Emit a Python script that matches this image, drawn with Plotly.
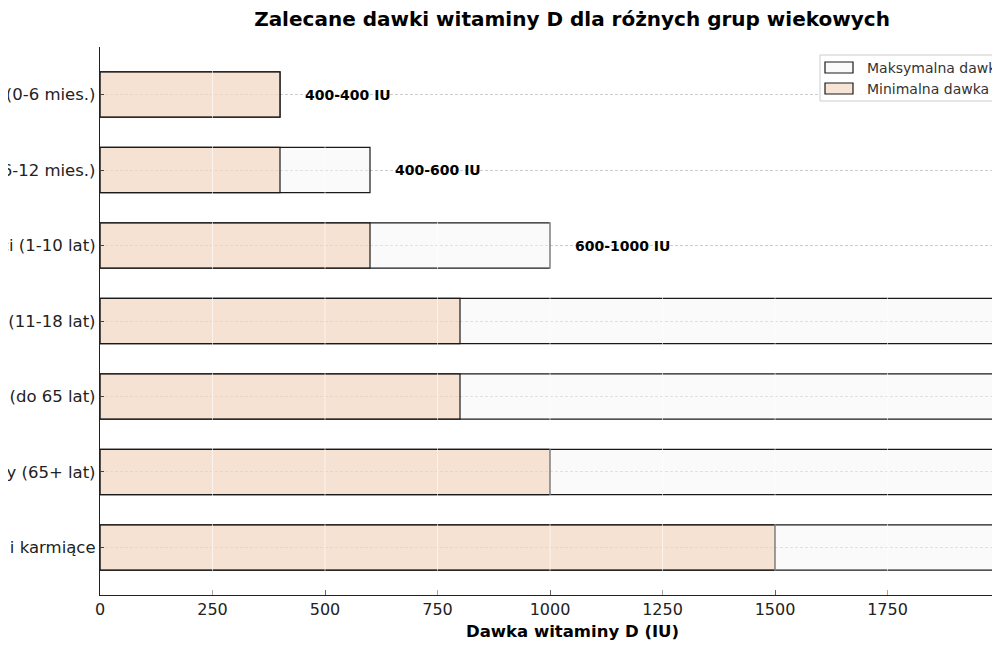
"""Zalecane dawki witaminy D – poziomy wykres słupkowy (min / max dawka)."""

import plotly.graph_objects as go

groups = [
    "Niemowlęta (0-6 mies.)",
    "Niemowlęta (6-12 mies.)",
    "Dzieci (1-10 lat)",
    "Młodzież (11-18 lat)",
    "Dorośli (do 65 lat)",
    "Seniorzy (65+ lat)",
    "Kobiety w ciąży i karmiące",
]
min_dose = [400, 400, 600, 800, 800, 1000, 1500]
max_dose = [400, 600, 1000, 2000, 2000, 2000, 2000]
x_ticks = [0, 250, 500, 750, 1000, 1250, 1500, 1750, 2000]

FONT = "DejaVu Sans"
# the page body has an 8px margin, so the figure is drawn 8px in from the window
OFF = 8
W, H = 1000 - 2 * OFF, 650 - 2 * OFF
# plot area in window pixels
PX0, PX1, PY0, PY1 = 100, 1000 - OFF, 47, 595
L, R, T, B = PX0 - OFF, W - (PX1 - OFF), PY0 - OFF, H - (PY1 - OFF)
PW, PH = PX1 - PX0, PY1 - PY0
X_MAX = PW / 0.45  # 0.45 px per IU, as in the source


def px(x):
    return (x - PX0) / PW


def py(y):
    return (PY1 - y) / PH


fig = go.Figure()
fig.add_trace(go.Bar(
    y=groups, x=max_dose, orientation="h", width=0.6,
    marker=dict(color="rgba(245,245,245,0.5)", line=dict(color="#1a1a1a", width=1.2)),
    name="Maksymalna dawka (IU)", showlegend=False,
))
fig.add_trace(go.Bar(
    y=groups, x=min_dose, orientation="h", width=0.6,
    marker=dict(color="rgba(241,201,169,0.5)", line=dict(color="#1a1a1a", width=1.2)),
    name="Minimalna dawka (IU)", showlegend=False,
))

annotations = []
for g, lo, hi in zip(groups, min_dose, max_dose):
    annotations.append(dict(
        x=hi + 50, y=g, xref="x", yref="y", text=f"<b>{lo}-{hi} IU</b>",
        showarrow=False, xanchor="left", yanchor="middle",
        font=dict(family=FONT, size=14, color="black"),
    ))

# x axis title, centred on the full (wider) axes of the source
annotations.append(dict(
    x=px(572), y=py(631), xref="paper", yref="paper",
    text="<b>Dawka witaminy D (IU)</b>", showarrow=False,
    xanchor="center", yanchor="middle",
    font=dict(family=FONT, size=16.5, color="black"),
))

shapes = []
# white vertical lines at ticks, drawn over the bars
for v in x_ticks[1:]:
    shapes.append(dict(
        type="line", xref="x", yref="paper", x0=v, x1=v, y0=0, y1=1,
        line=dict(color="white", width=1), opacity=0.6, layer="above",
    ))

# legend drawn by hand so it can run off the right edge like the source
shapes.append(dict(
    type="rect", xref="paper", yref="paper",
    x0=px(820), x1=px(1060), y0=py(101), y1=py(55),
    fillcolor="rgba(255,255,255,0.85)", line=dict(color="#cccccc", width=1), layer="above",
))
legend_items = [("Maksymalna dawka (IU)", "#fafafa", 67.5),
                ("Minimalna dawka (IU)", "#f8e4d4", 88.5)]
for label, color, yc in legend_items:
    shapes.append(dict(
        type="rect", xref="paper", yref="paper",
        x0=px(825), x1=px(853), y0=py(yc + 5.5), y1=py(yc - 5.5),
        fillcolor=color, line=dict(color="#1a1a1a", width=1.2), layer="above",
    ))
    annotations.append(dict(
        x=px(865), y=py(yc), xref="paper", yref="paper", text=label,
        showarrow=False, xanchor="left", yanchor="middle",
        font=dict(family=FONT, size=14, color="#333333"),
    ))

fig.update_layout(
    width=W, height=H,
    margin=dict(l=L, r=R, t=T, b=B, autoexpand=False),
    barmode="overlay",
    plot_bgcolor="white", paper_bgcolor="white",
    font=dict(family=FONT, size=16, color="#222222"),
    title=dict(
        text="<b>Zalecane dawki witaminy D dla różnych grup wiekowych</b>",
        x=(572 - OFF) / W, xref="container", xanchor="center",
        y=1 - (19 - OFF) / H, yanchor="middle",
        font=dict(family=FONT, size=20, color="black"),
    ),
    xaxis=dict(
        range=[0, X_MAX], tickvals=x_ticks, ticks="inside", ticklen=5,
        tickcolor="#222222", showline=True, linecolor="#222222", linewidth=1.3,
        showgrid=False, zeroline=False, automargin=False,
        tickfont=dict(family=FONT, size=16, color="#222222"),
    ),
    yaxis=dict(
        type="category", range=[6.63, -0.63], ticks="inside", ticklen=4,
        tickcolor="#444444", showline=True, linecolor="#222222", linewidth=1.3,
        showgrid=True, gridcolor="#cccccc", gridwidth=0.8, griddash="3px,2px",
        zeroline=False, automargin=False,
        tickfont=dict(family=FONT, size=16.5, color="#222222"),
    ),
    shapes=shapes,
    annotations=annotations,
)

fig.write_html("out.html")
